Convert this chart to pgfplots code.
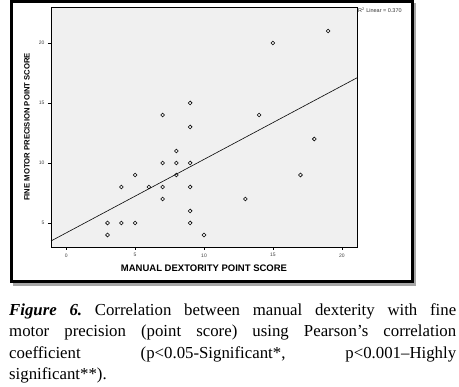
\documentclass[border=0pt]{standalone}
\usepackage{pgfplots}
\pgfplotsset{compat=1.18}
\usepackage{fontspec}
\setmainfont{Liberation Serif}
\newfontfamily\arial{Liberation Sans}
\begin{document}
\begin{tikzpicture}[x=1pt,y=1pt]
\useasboundingbox (0,0) rectangle (459,387);
\fill[black!35] (13,101) rectangle (416,384);
\filldraw[fill=white,draw=black,line width=3pt] (11.5,385.5) rectangle (412.5,105.5);
\begin{axis}[
  at={(51pt,140pt)}, anchor=south west,
  scale only axis, width=306pt, height=240pt,
  xmin=-1.1, xmax=21.1, ymin=3, ymax=23,
  axis background/.style={fill=black!6},
  xtick={0,5,10,15,20}, ytick={5,10,15,20},
  tick align=outside, tick pos=left, major tick length=3pt,
  tick style={black, line width=0.5pt},
  ticklabel style={font=\arial\fontsize{5}{5}\selectfont, text=black!75},
  /pgf/number format/assume math mode=true,
  axis line style={line width=0.6pt},
  xlabel={MANUAL DEXTORITY POINT SCORE},
  ylabel={FINE MOTOR PRECISION POINT SCORE},
  xlabel style={font=\arial\bfseries\fontsize{9.5}{10}\selectfont, at={(axis description cs:0.5,-0.0875)}, anchor=center},
  ylabel style={font=\arial\bfseries\fontsize{7.7}{9}\selectfont, at={(axis description cs:-0.0784,0.5)}, anchor=center},
  clip=false,
]
\addplot[black, line width=0.6pt] coordinates {(-1.1,3.5) (21.1,17.1)};
\addplot[only marks, mark=o, mark size=1.9pt, mark options={line width=0.55pt, black}] coordinates {
(3,4) (3,5) (4,5) (4,8) (5,5) (5,9) (6,8) (7,7) (7,8) (7,10) (7,14)
(8,9) (8,10) (8,11) (9,5) (9,6) (9,8) (9,10) (9,13) (9,15) (10,4)
(13,7) (14,14) (15,20) (17,9) (18,12) (19,21)};
\node[anchor=north west, inner sep=1pt, font=\arial\fontsize{5.5}{6}\selectfont, text=black!80] at (rel axis cs:1,1) {R\textsuperscript{2} Linear = 0.370};
\end{axis}
\begin{scope}[font=\fontsize{16.8}{20}\selectfont]
\node[anchor=base west, inner sep=0pt] at (9,71) {\hbox to 447pt{\textbf{\textit{Figure}}\hfill\textbf{\textit{6.}}\hfill Correlation\hfill between\hfill manual\hfill dexterity\hfill with\hfill fine}};
\node[anchor=base west, inner sep=0pt] at (9,50) {\hbox to 447pt{motor\hfill precision\hfill (point\hfill score)\hfill using\hfill Pearson’s\hfill correlation}};
\node[anchor=base west, inner sep=0pt] at (9,28) {\hbox to 447pt{coefficient\hfill (p<0.05-Significant*,\hfill p<0.001–Highly}};
\node[anchor=base west, inner sep=0pt] at (9,7) {significant**).};
\end{scope}
\end{tikzpicture}
\end{document}
